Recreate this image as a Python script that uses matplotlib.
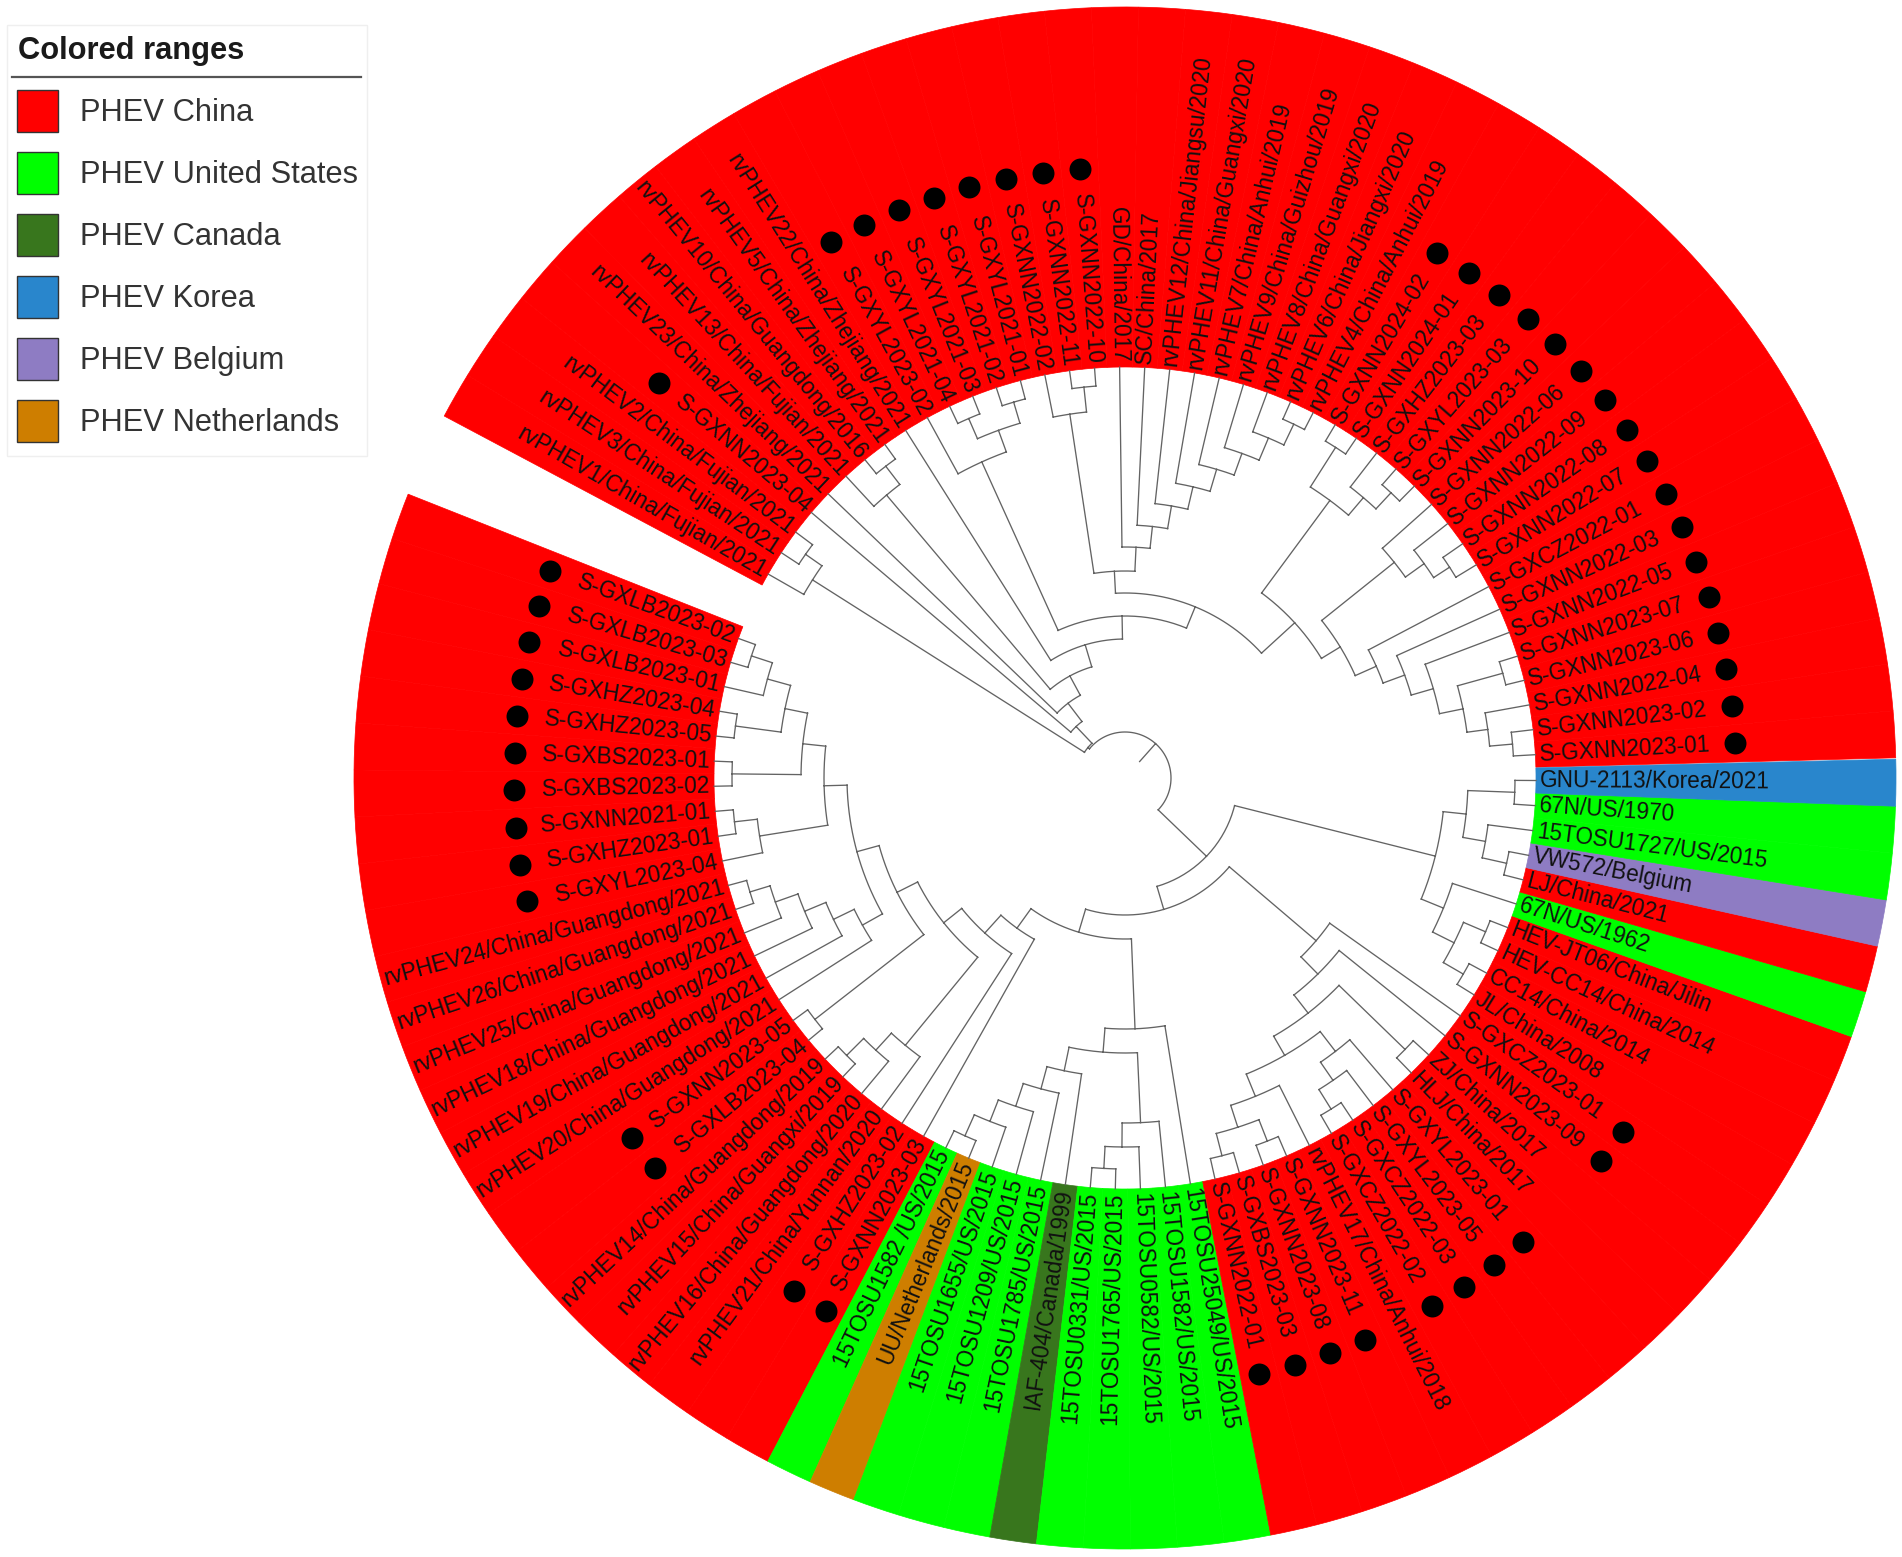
import numpy as np
import matplotlib
matplotlib.use("Agg")
import matplotlib.pyplot as plt
from matplotlib.patches import Rectangle

plt.rcParams['font.family'] = ['Liberation Sans', 'DejaVu Sans']

# ---------- leaves (counter-clockwise from east) ----------
upper_labels = [
    "S-GXNN2023-01", "S-GXNN2023-02", "S-GXNN2022-04", "S-GXNN2023-06", "S-GXNN2023-07",
    "S-GXNN2022-05", "S-GXNN2022-03", "S-GXCZ2022-01", "S-GXNN2022-07", "S-GXNN2022-08",
    "S-GXNN2022-09", "S-GXNN2022-06", "S-GXNN2023-10", "S-GXYL2023-03", "S-GXHZ2023-03",
    "S-GXNN2024-01", "S-GXNN2024-02", "rvPHEV4/China/Anhui/2019", "rvPHEV6/China/Jiangxi/2020",
    "rvPHEV8/China/Guangxi/2020", "rvPHEV9/China/Guizhou/2019", "rvPHEV7/China/Anhui/2019",
    "rvPHEV11/China/Guangxi/2020", "rvPHEV12/China/Jiangsu/2020", "SC/China/2017", "GD/China/2017",
    "S-GXNN2022-10", "S-GXNN2022-11", "S-GXNN2022-02", "S-GXYL2021-01", "S-GXYL2021-02",
    "S-GXYL2021-03", "S-GXYL2021-04", "S-GXYL2023-02", "rvPHEV22/China/Zhejiang/2021",
    "rvPHEV5/China/Zhejiang/2021", "rvPHEV10/China/Guangdong/2016", "rvPHEV13/China/Fujian/2021",
    "rvPHEV23/China/Zhejiang/2021", "S-GXNN2023-04", "rvPHEV2/China/Fujian/2021",
    "rvPHEV3/China/Fujian/2021", "rvPHEV1/China/Fujian/2021",
]
lower_labels = [
    "S-GXLB2023-02", "S-GXLB2023-03", "S-GXLB2023-01", "S-GXHZ2023-04", "S-GXHZ2023-05",
    "S-GXBS2023-01", "S-GXBS2023-02", "S-GXNN2021-01", "S-GXHZ2023-01", "S-GXYL2023-04",
    "rvPHEV24/China/Guangdong/2021", "rvPHEV26/China/Guangdong/2021", "rvPHEV25/China/Guangdong/2021",
    "rvPHEV18/China/Guangdong/2021", "rvPHEV19/China/Guangdong/2021", "rvPHEV20/China/Guangdong/2021",
    "S-GXNN2023-05", "S-GXLB2023-04", "rvPHEV14/China/Guangdong/2019", "rvPHEV15/China/Guangxi/2019",
    "rvPHEV16/China/Guangdong/2020", "rvPHEV21/China/Yunnan/2020", "S-GXHZ2023-02", "S-GXNN2023-03",
    "15TOSU1582 /US/2015", "UU/Netherlands/2015", "15TOSU1655/US/2015", "15TOSU1209/US/2015",
    "15TOSU1785/US/2015", "IAF-404/Canada/1999", "15TOSU0331/US/2015", "15TOSU1765/US/2015",
    "15TOSU0582/US/2015", "15TOSU1582/US/2015", "15TOSU25049/US/2015", "S-GXNN2022-01",
    "S-GXBS2023-03", "S-GXNN2023-08", "S-GXNN2023-11", "rvPHEV17/China/Anhui/2018", "S-GXCZ2022-02",
    "S-GXCZ2022-03", "S-GXYL2023-05", "S-GXYL2023-01", "HLJ/China/2017", "ZJ/China/2017",
    "S-GXNN2023-09", "S-GXCZ2023-01", "JL/China/2008", "CC14/China/2014", "HEV-CC14/China/2014",
    "HEV-JT06/China/Jilin", "67N/US/1962", "LJ/China/2021", "VW572/Belgium", "15TOSU1727/US/2015",
    "67N/US/1970", "GNU-2113/Korea/2021",
]
legend_title = "Colored ranges"
legend_names = ["PHEV China", "PHEV United States", "PHEV Canada", "PHEV Korea", "PHEV Belgium", "PHEV Netherlands"]
legend_colors = ["#ff0000", "#00ff00", "#38761d", "#2986cc", "#8e7cc3", "#ce7e00"]

exceptions = {"IAF-404/Canada/1999": 2, "GNU-2113/Korea/2021": 3, "VW572/Belgium": 4, "UU/Netherlands/2015": 5}


def range_index(label):
    if label in exceptions:
        return exceptions[label]
    return 1 if ("/US/" in label) else 0


# ---------- tree: N(depth, child, child); ints are leaves ----------
def N(depth, *kids):
    return (depth, kids)


U = len(upper_labels)


def J(j):
    return U + j


# upper arc
up_a = N(275, 7, N(298, 6, N(321, 5, N(345, N(392, 3, 4), N(366, 2, N(389, 0, 1))))))
up_b = N(345, 11, N(368, 10, N(387, 8, 9)))
up_c = N(345, N(368, 14, N(390, 12, 13)), N(392, 15, 16))
up_d = N(230, N(252, up_a, up_b), up_c)
up_rv = N(231, 25, N(253, 24, N(276, 23, N(299, 22, N(322, 21, N(345, 20, N(369, 19, N(392, 17, 18))))))))
up_e = N(207, up_rv, N(368, 28, N(393, 26, 27)))
up_yl = N(347, 33, N(370, N(392, 31, 32), N(392, 29, 30)))
up_f = N(139, N(162, N(185, up_d, up_e), up_yl), 34)
up_g = N(94, N(116, up_f, N(370, 37, N(393, 35, 36))), 38)
up_h = N(48, N(71, up_g, 39), N(370, 42, N(390, 40, 41)))

# lower arc: east side
lo_us = N(343, N(390, J(57), J(56)), N(366, J(55), N(391, J(54), J(53))))
lo_hev = N(344, J(52), N(368, N(392, J(51), J(50)), N(391, J(49), J(48))))
lo_east = N(320, lo_us, lo_hev)

# lower arc: south-east side
lo_d6 = N(345, J(43), N(367, J(42), N(390, J(41), J(40))))
lo_d7 = N(344, J(39), N(367, N(390, J(38), J(37)), N(390, J(36), J(35))))
lo_se = N(251, N(275, N(298, N(320, lo_d6, lo_d7), N(390, J(45), J(44))), J(46)), J(47))

# lower arc: south side
lo_s1 = N(345, J(33), N(369, J(32), N(391, J(31), J(30))))
lo_s2 = N(299, J(29), N(322, J(28), N(346, J(27), N(369, J(26), N(392, J(25), J(24))))))
lo_s = N(251, J(34), N(275, lo_s1, lo_s2))

# lower arc: south-west and west side
lo_k = N(346, J(21), N(369, J(20), N(393, J(19), J(18))))
lo_w1 = N(301, J(15), N(324, J(14), N(347, J(13), N(371, J(12), N(392, J(11), J(10))))))
lo_w2 = N(347, N(371, J(2), N(393, J(0), J(1))), N(393, J(3), J(4)))
lo_w3 = N(301, N(324, lo_w2, N(393, J(5), J(6))), N(370, J(9), N(393, J(7), J(8))))
lo_w = N(255, N(278, lo_w1, lo_w3), N(393, J(16), J(17)))
lo_sw = N(185, N(209, N(232, lo_w, lo_k), J(22)), J(23))

lo_all = N(113, lo_east, N(137, N(161, lo_sw, lo_s), lo_se))
tree = N(46, up_h, lo_all)
root_stub_depth = 22

# ---------- layout ----------
W, H = 1902, 1557
CX, CY = 1125, 778
R_TIP, R_OUT, R_TXT, R_DOT = 411, 771, 415, 611
RMAX = 775
STEP = 3.5
START_UP = 1.5
START_LO = 158.4 - 360

labels = upper_labels + lower_labels
angles = np.r_[START_UP + STEP * (np.arange(len(upper_labels)) + .5),
               START_LO + STEP * (np.arange(len(lower_labels)) + .5)]

fig = plt.figure(figsize=(W / 100, H / 100), dpi=100, facecolor="white")
ax = fig.add_axes([(CX - RMAX) / W, (H - CY - RMAX) / H, 2 * RMAX / W, 2 * RMAX / H], projection="polar")
ax.set_ylim(0, RMAX)
ax.set_axis_off()

# coloured ranges
cols = [legend_colors[range_index(s)] for s in labels]
ax.bar(np.radians(angles), R_OUT - R_TIP, width=np.radians(STEP), bottom=R_TIP,
       color=cols, edgecolor=cols, linewidth=0.5, zorder=1)

# branches
tt, rr = [], []


def walk(node):
    """Return the angle of a node, collecting its arc and its child stems."""
    if isinstance(node, (int, np.integer)):
        return angles[node], R_TIP
    depth, kids = node
    info = [walk(k) for k in kids]
    ang = [i[0] for i in info]
    arc = np.radians(np.linspace(min(ang), max(ang), 60))
    tt.extend(arc); rr.extend([depth] * 60)
    tt.append(np.nan); rr.append(np.nan)
    for a, r in info:
        tt.extend(np.radians([a, a])); rr.extend([depth, r])
        tt.append(np.nan); rr.append(np.nan)
    return (min(ang) + max(ang)) / 2, depth


root_angle, root_depth = walk(tree)
tt.extend(np.radians([root_angle, root_angle])); rr.extend([root_depth, root_stub_depth])
ax.plot(tt, rr, color="#636363", lw=0.95, zorder=2, solid_capstyle="projecting")

# leaf labels
for a, s in zip(angles, labels):
    flip = np.cos(np.radians(a)) < 0
    ax.text(np.radians(a), R_TXT, s, fontsize=16.3, color="#111111",
            rotation=(a - 180 if flip else a) % 360, rotation_mode="anchor",
            ha="right" if flip else "left", va="center", zorder=3)

# study-strain markers
dot = [a for a, s in zip(angles, labels) if s.startswith("S-")]
ax.scatter(np.radians(dot), [R_DOT] * len(dot), s=250, c="black", linewidths=0, zorder=4)

# legend
lg = fig.add_axes([0, 0, 1, 1], facecolor="none")
lg.set_xlim(0, W); lg.set_ylim(H, 0); lg.set_axis_off()
lg.add_patch(Rectangle((7, 25), 360, 431, fc="white", ec="#efefef", lw=1))
lg.text(18, 51, legend_title, fontsize=22.2, fontweight="bold", color="#1a1a1a", va="center", ha="left")
lg.plot([12, 361], [77, 77], color="#555555", lw=1.6)
for k, (name, col) in enumerate(zip(legend_names, legend_colors)):
    y = 90 + 61.9 * k
    lg.add_patch(Rectangle((17, y), 41, 42, fc=col, ec="#333333", lw=1))
    lg.text(80, y + 23, name, fontsize=22.2, color="#333333", va="center", ha="left")

fig.savefig("out.png", dpi=100, facecolor="white")
